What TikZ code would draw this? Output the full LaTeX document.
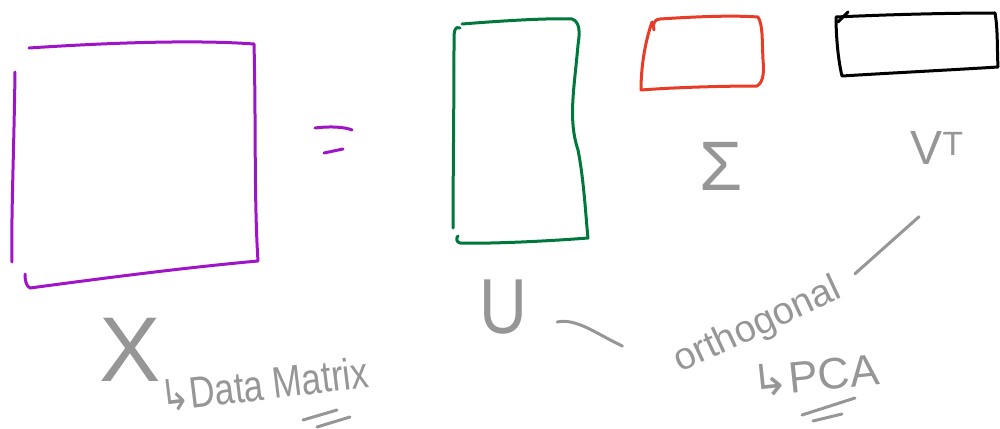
\documentclass[tikz,border=0pt]{standalone}
\usepackage{fontspec}
\setmainfont{Liberation Sans}
\newfontfamily\arrowfont{DejaVu Sans}
\definecolor{pen}{RGB}{150,150,150}
\definecolor{xpurple}{RGB}{160,20,200}
\definecolor{ugreen}{RGB}{0,120,60}
\definecolor{sred}{RGB}{232,60,40}
\begin{document}
\begin{tikzpicture}[x=1pt,y=-1pt,
  stroke/.style={line width=3pt,line cap=round,line join=round},
  label/.style={text=pen,inner sep=0pt},
  conn/.style={draw=pen,line width=3pt,line cap=round}]
\useasboundingbox (0,0) rectangle (1000,428);
% X matrix (purple)
\draw[stroke,xpurple] (15,72) .. controls (14,150) and (11,220) .. (12,262);
\draw[stroke,xpurple] (29,48) .. controls (120,42) and (200,40) .. (254,44)
  .. controls (256,120) and (254,200) .. (258,261)
  .. controls (180,268) and (90,280) .. (30,288) .. controls (26,286) and (25,280) .. (25,274);
% equals
\draw[stroke,xpurple] (315,128) .. controls (330,126) and (345,127) .. (352,130);
\draw[stroke,xpurple] (324,153) -- (343,149);
% U matrix (green)
\draw[stroke,ugreen] (460,28) .. controls (455,26) and (454,30) .. (454,40)
  .. controls (454,110) and (453,180) .. (453,228);
\draw[stroke,ugreen] (462,24) .. controls (500,21) and (545,18) .. (572,19)
  .. controls (580,22) and (580,32) .. (578,45)
  .. controls (574,90) and (568,120) .. (578,150)
  .. controls (584,180) and (586,220) .. (588,238)
  .. controls (550,241) and (490,244) .. (460,243) .. controls (456,242) and (456,238) .. (458,236);
% Sigma matrix (red)
\draw[stroke,sred] (652,22) .. controls (644,45) and (641,70) .. (641,90)
  .. controls (680,87) and (730,86) .. (757,86)
  .. controls (764,82) and (764,70) .. (763,60)
  .. controls (762,40) and (763,25) .. (758,17)
  .. controls (730,15) and (690,17) .. (660,19) .. controls (655,19) and (652,24) .. (654,30);
% V^T matrix (black)
\draw[stroke,black] (836,17) .. controls (900,14) and (960,13) .. (995,13)
  .. controls (998,30) and (997,50) .. (998,67)
  .. controls (950,70) and (890,73) .. (842,76)
  .. controls (838,60) and (836,35) .. (836,17);
\draw[stroke,black] (838,22) -- (848,12);
% labels
\node[label,font=\fontsize{92}{92}\selectfont] (X) at (130,350) {X};
\node[label,font=\fontsize{44}{44}\selectfont,rotate=7,anchor=west] (dm) at (160,397) {\scalebox{0.8}[1]{{\arrowfont ↳}Data Matrix}};
\draw[stroke,pen] (303,420) -- (337,410);
\draw[stroke,pen] (317,427) -- (350,417);
\node[label,font=\fontsize{78}{78}\selectfont] (U) at (503,307) {\scalebox{0.85}[1]{U}};
\node[label,font=\fontsize{70}{70}\selectfont] (S) at (721,166) {Σ};
\node[label,font=\fontsize{48}{48}\selectfont] (VT) at (937,148) {V\textsuperscript{T}};
\node[label,font=\fontsize{38}{38}\selectfont,rotate=25] (orth) at (758,326) {orthogonal};
\node[label,font=\fontsize{44}{44}\selectfont,rotate=6,anchor=west] (pca) at (752,382) {{\arrowfont ↳}PCA};
\draw[stroke,pen] (802,415) -- (855,398);
\draw[stroke,pen] (813,421) -- (842,414);
% connectors
\draw[conn] ([shift={(30,15)}]U.east) .. controls ([shift={(50,11)}]U.east) and ([shift={(-80,-30)}]orth.west) .. ([shift={(-54,-18)}]orth.west);
\draw[conn] ([shift={(23,2)}]orth.north east) -- ([shift={(-18,52)}]VT.south);
\end{tikzpicture}
\end{document}
